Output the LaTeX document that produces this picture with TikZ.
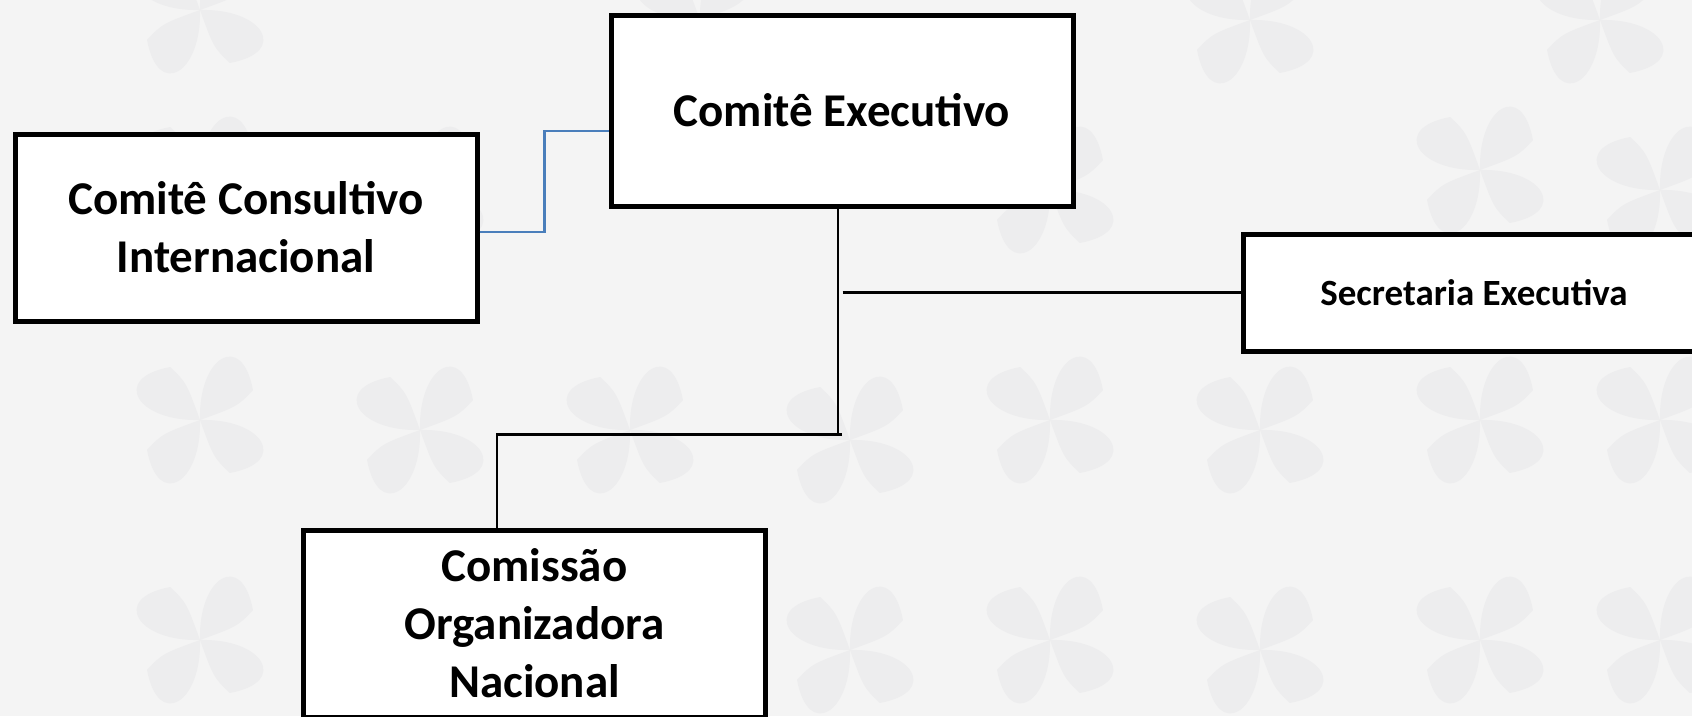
\documentclass[tikz,border=0pt]{standalone}
\usepackage{fontspec}
\setmainfont{Carlito}
\usetikzlibrary{calc}
\definecolor{bgcol}{HTML}{F4F4F4}
\definecolor{petal}{HTML}{EDEDEE}
\definecolor{lineblue}{HTML}{4A7EBB}
\tikzset{
  orgbox/.style={draw=black, line width=5pt, fill=white, inner sep=0pt, align=center,
    font=\fontsize{47pt}{58pt}\selectfont\bfseries, minimum width=462pt},
  smallbox/.style={orgbox, font=\fontsize{37pt}{45pt}\selectfont\bfseries},
  conn/.style={draw=black, line width=2.2pt},
  blueconn/.style={draw=lineblue, line width=2.2pt},
}
\begin{document}
\begin{tikzpicture}[x=1pt,y=-1pt]
\useasboundingbox (0,0) rectangle (1692,716);
\fill[bgcol] (0,0) rectangle (1692,716);
% faint decorative pinwheel petals in the background
\foreach \cx/\cy in {200/420,420/430,630/430,850/440,1050/420,1260/430,1480/420,1660/420,
                     200/640,420/650,850/650,1050/640,1260/650,1480/640,1660/640,
                     200/180,420/190,1050/190,1480/170,1660/190,700/20,1250/20,1600/20,200/10}
{
  \begin{scope}[shift={(\cx,\cy)}]
    \foreach \a in {0,90,180,270}{
      \fill[petal,rotate=\a+20] (0,0) .. controls (20,-60) and (70,-70) .. (60,-10) .. controls (40,0) .. (0,0);
    }
  \end{scope}
}
\node[orgbox, minimum height=191pt] (exec) at (842,110.5) {Comitê Executivo};
\node[orgbox, minimum height=187pt] (cons) at (246,227.5) {Comitê Consultivo\\Internacional};
\node[smallbox, minimum height=117pt] (sec) at (1474,292.5) {Secretaria Executiva};
\node[orgbox, minimum height=187pt] (com) at (534.5,623.5) {Comissão\\Organizadora\\Nacional};
\coordinate (junc) at ($(exec.south)+(-4,226)$);
\draw[blueconn] ($(cons.east)+(0,4.5)$) -- ++(65,0) |- ($(exec.west)+(0,20.5)$);
\draw[conn] ($(exec.south)+(-4,0)$) -- (junc);
\draw[conn] ($(junc)+(4,0)$) -| ($(com.north)+(-37.5,0)$);
\draw[conn] ($(sec.west)+(-398,0)$) -- (sec.west);
\end{tikzpicture}
\end{document}
